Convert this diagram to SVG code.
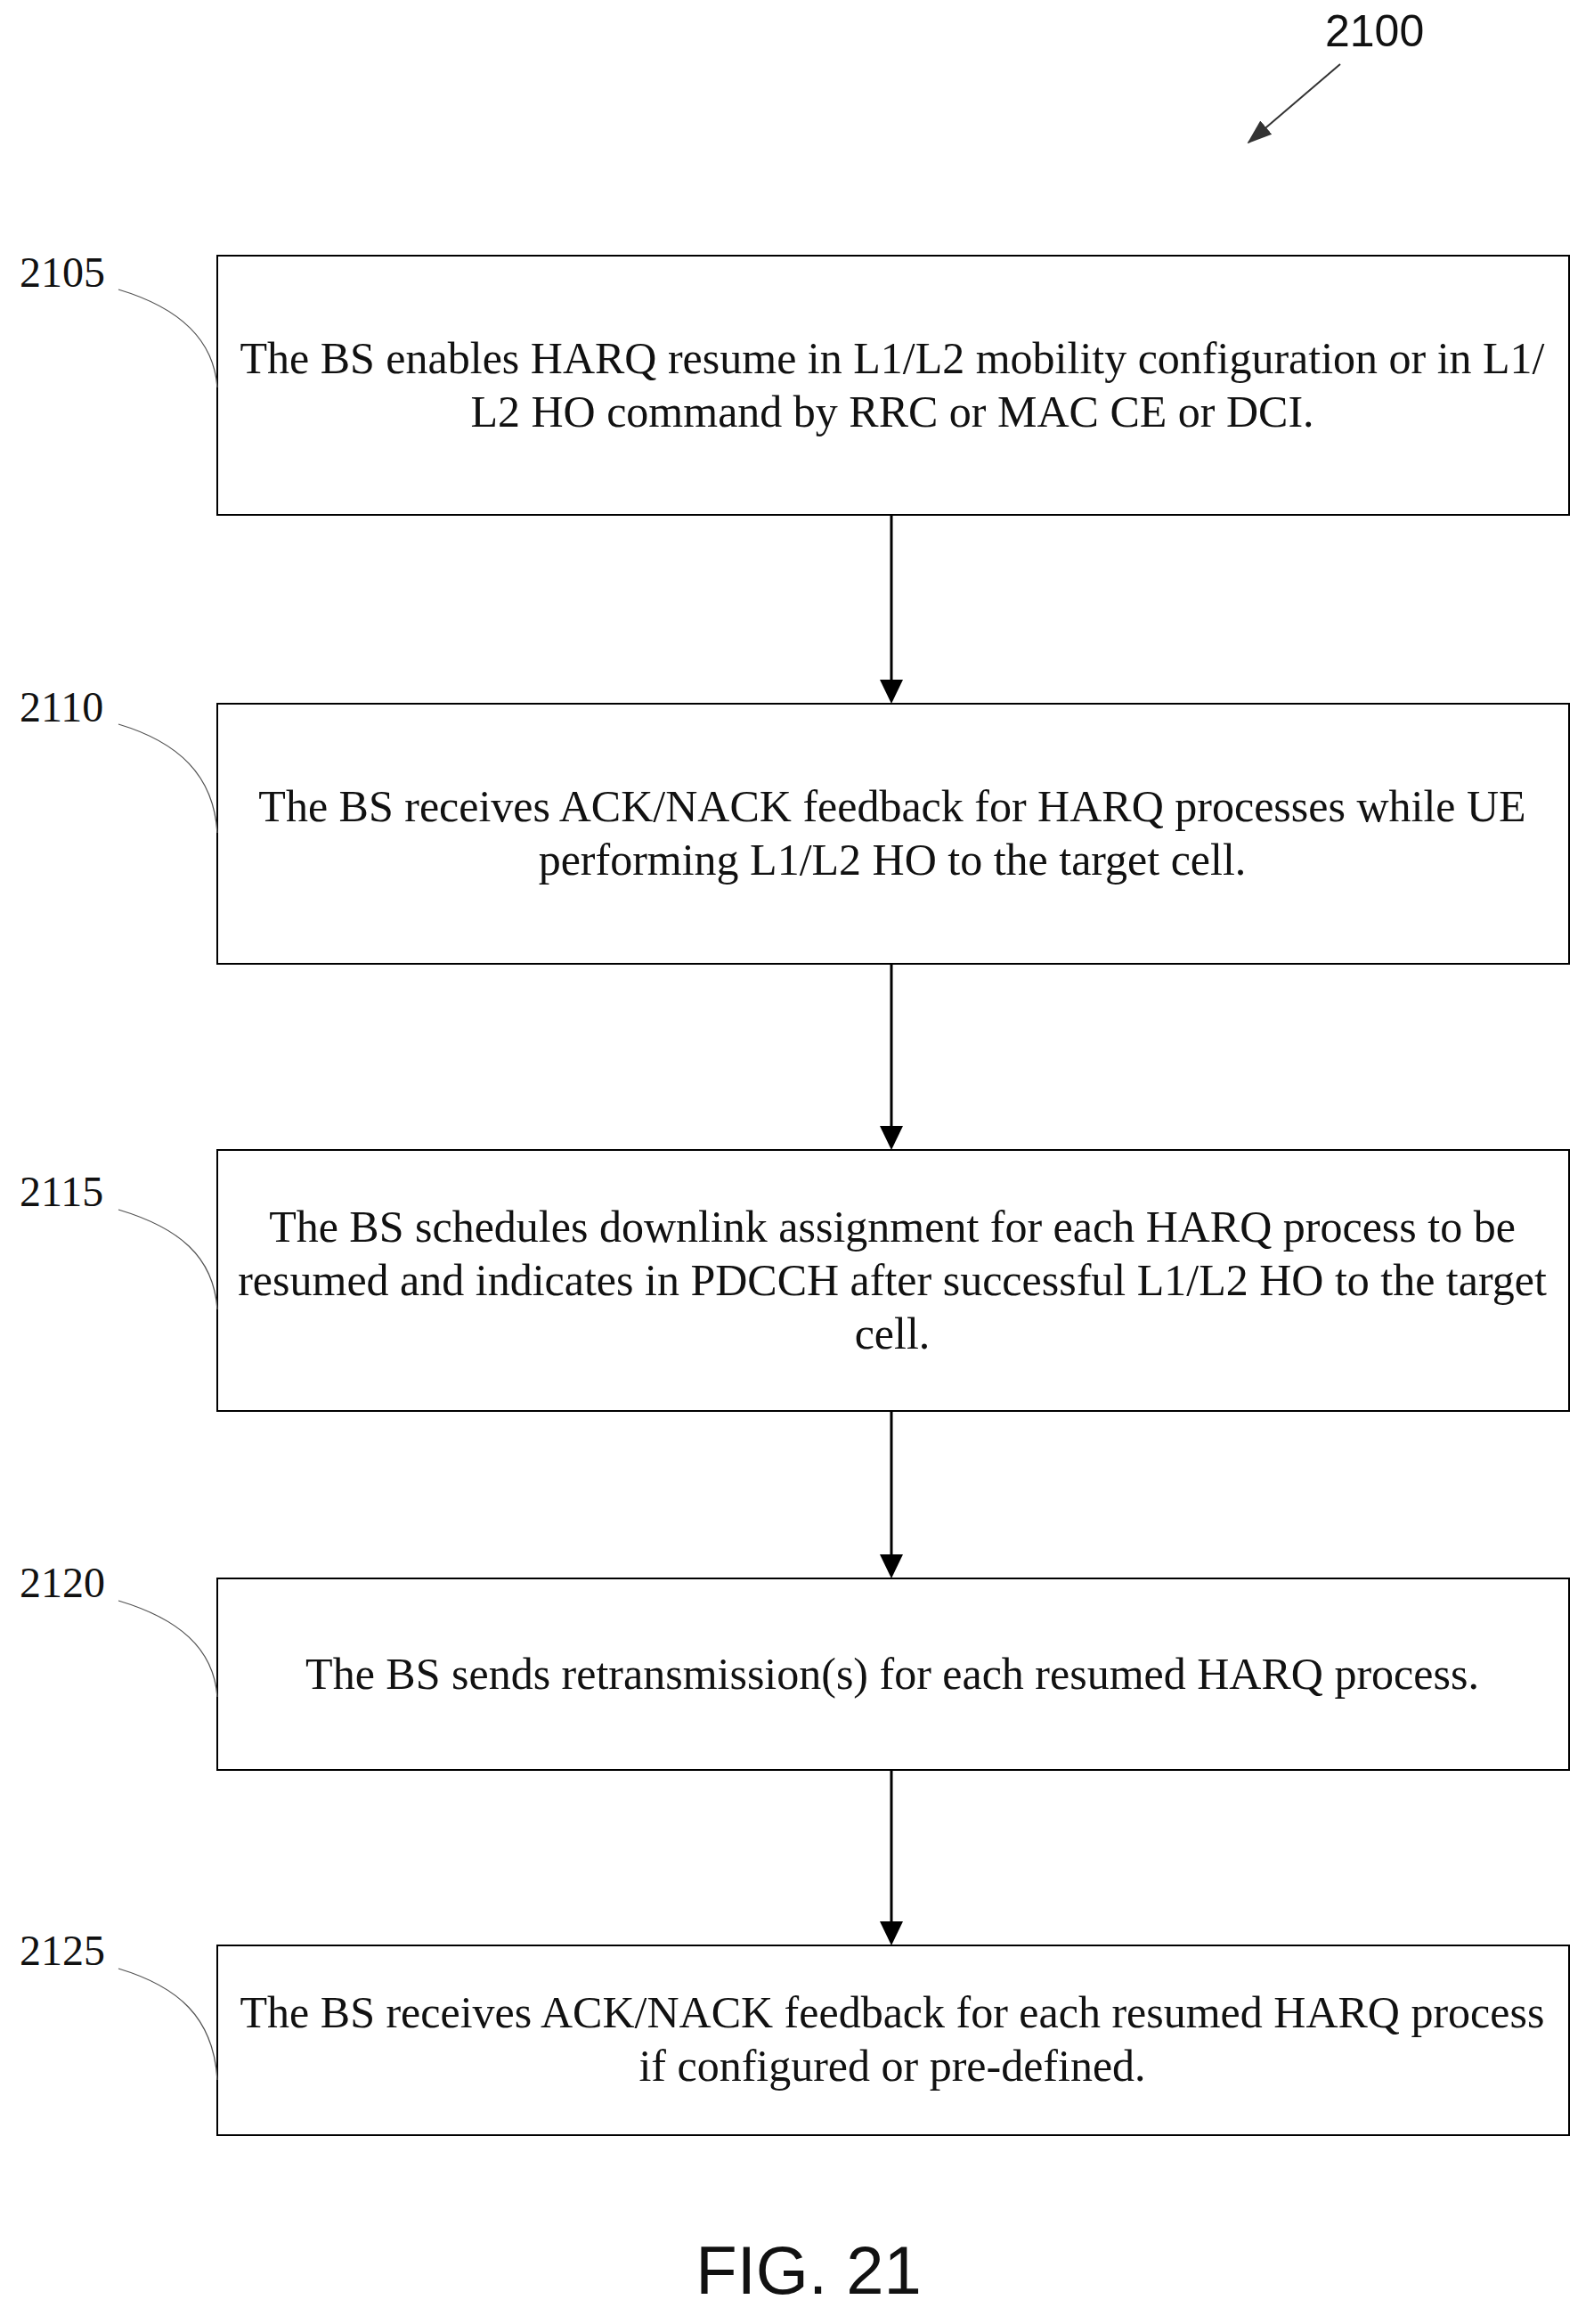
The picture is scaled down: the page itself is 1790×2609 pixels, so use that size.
<svg xmlns="http://www.w3.org/2000/svg" width="1790" height="2609" viewBox="0 0 1790 2609">
<style>
.box{fill:#fff;stroke:#000;stroke-width:2}
.t{font-family:"Liberation Serif",serif;font-size:50px;text-anchor:middle;fill:#111}
.lb{font-family:"Liberation Serif",serif;font-size:48px;fill:#111}
.lead{fill:none;stroke:#555;stroke-width:1.3}
.ar{stroke:#000;stroke-width:3;fill:none}
</style>
<defs>
<marker id="ah2" markerWidth="28" markerHeight="28" refX="26" refY="14" orient="auto" markerUnits="userSpaceOnUse" viewBox="0 0 28 28">
<path d="M0,4 L28,14 L0,24 z" fill="#333"/>
</marker>
</defs>
<g id="title">
<text x="1488" y="52" style="font-family:'Liberation Sans',sans-serif;font-size:50px;fill:#111">2100</text>
<line x1="1505" y1="72" x2="1402" y2="160" stroke="#333" stroke-width="2" marker-end="url(#ah2)"/>
</g>
<g id="connectors">
<line class="ar" x1="1001" y1="578" x2="1001" y2="765"/>
<path d="M988,763 L1001,790 L1014,763 z"/>
<line class="ar" x1="1001" y1="1082" x2="1001" y2="1266"/>
<path d="M988,1264 L1001,1291 L1014,1264 z"/>
<line class="ar" x1="1001" y1="1584" x2="1001" y2="1747"/>
<path d="M988,1745 L1001,1772 L1014,1745 z"/>
<line class="ar" x1="1001" y1="1987" x2="1001" y2="2159"/>
<path d="M988,2157 L1001,2184 L1014,2157 z"/>
</g>
<g id="n2105">
<rect class="box" x="244" y="287" width="1518" height="291"/>
<text class="t" x="1002" y="419">The BS enables HARQ resume in L1/L2 mobility configuration or in L1/</text>
<text class="t" x="1002" y="479">L2 HO command by RRC or MAC CE or DCI.</text>
<text class="lb" x="22" y="322">2105</text>
<path class="lead" d="M133,325 C200,345 240,380 244,435"/>
</g>
<g id="n2110">
<rect class="box" x="244" y="790" width="1518" height="292"/>
<text class="t" x="1002" y="922">The BS receives ACK/NACK feedback for HARQ processes while UE</text>
<text class="t" x="1002" y="982">performing L1/L2 HO to the target cell.</text>
<text class="lb" x="22" y="810">2110</text>
<path class="lead" d="M133,813 C200,833 240,870 244,935"/>
</g>
<g id="n2115">
<rect class="box" x="244" y="1291" width="1518" height="293"/>
<text class="t" x="1002" y="1394">The BS schedules downlink assignment for each HARQ process to be</text>
<text class="t" x="1002" y="1454">resumed and indicates in PDCCH after successful L1/L2 HO to the target</text>
<text class="t" x="1002" y="1514">cell.</text>
<text class="lb" x="22" y="1354">2115</text>
<path class="lead" d="M133,1358 C200,1378 240,1410 244,1470"/>
</g>
<g id="n2120">
<rect class="box" x="244" y="1772" width="1518" height="215"/>
<text class="t" x="1002" y="1896">The BS sends retransmission(s) for each resumed HARQ process.</text>
<text class="lb" x="22" y="1793">2120</text>
<path class="lead" d="M133,1797 C200,1817 240,1850 244,1905"/>
</g>
<g id="n2125">
<rect class="box" x="244" y="2184" width="1518" height="213"/>
<text class="t" x="1002" y="2276">The BS receives ACK/NACK feedback for each resumed HARQ process</text>
<text class="t" x="1002" y="2336">if configured or pre-defined.</text>
<text class="lb" x="22" y="2206">2125</text>
<path class="lead" d="M133,2210 C200,2230 240,2265 244,2335"/>
</g>
<g id="fig">
<text x="908" y="2575" style="font-family:'Liberation Sans',sans-serif;font-size:76px;text-anchor:middle;fill:#111">FIG. 21</text>
</g>
</svg>
